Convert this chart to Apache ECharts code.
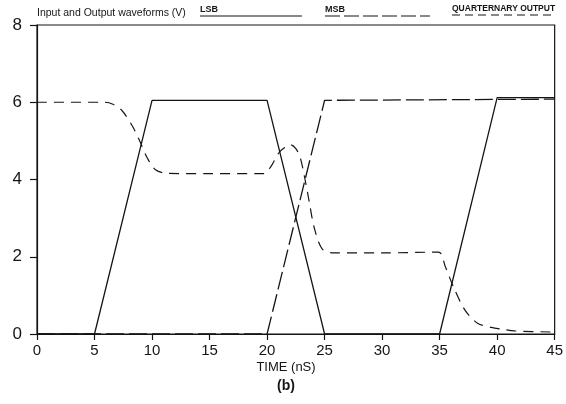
<!DOCTYPE html>
<html>
<head>
<meta charset="utf-8">
<script src="https://cdn.jsdelivr.net/npm/echarts@6/dist/echarts.min.js"></script>
<style>html,body{margin:0;padding:0;background:#fff;}#c{width:566px;height:404px;}</style>
</head>
<body>
<div id="c"></div>
<script>
// Time (nS) and voltage (V) samples
const lsbTime = [0, 5, 10, 20, 25, 35, 40, 45];
const lsbVolt = [0, 0, 6.05, 6.05, 0, 0, 6.12, 6.12];

const msbTime = [0, 20, 25, 45];
const msbVolt = [0, 0, 6.05, 6.08];

const qTime = [0, 5.9, 6.6, 7.4, 8.3, 9.0, 9.6, 10.3, 11.3, 15, 19.7, 20.3, 21.0, 21.5, 22.05, 22.5, 22.9, 23.3, 23.65, 24.1, 24.8, 25.8, 30, 34.9, 35.5, 36.2, 37.2, 38.3, 39.5, 40.5, 41.5, 45];
const qVolt = [6.0, 6.0, 5.95, 5.78, 5.38, 4.95, 4.55, 4.25, 4.16, 4.15, 4.15, 4.32, 4.68, 4.82, 4.9, 4.8, 4.55, 4.0, 3.45, 2.75, 2.2, 2.1, 2.1, 2.12, 1.74, 1.22, 0.62, 0.28, 0.17, 0.12, 0.08, 0.05];

const xTicks = [0, 5, 10, 15, 20, 25, 30, 35, 40, 45];
const yTicks = [0, 2, 4, 6, 8];

const titleText = 'Input and Output waveforms (V)';
const lsbName = 'LSB';
const msbName = 'MSB';
const qName = 'QUARTERNARY OUTPUT';
const xName = 'TIME (nS)';
const panelLabel = '(b)';

const zip = (a, b) => a.map((t, i) => [t, b[i]]);
const ink = '#151515';

const chart = echarts.init(document.getElementById('c'));
chart.setOption({
  animation: false,
  grid: { left: 37, right: 10, top: 25, bottom: 70, show: true, borderColor: ink, borderWidth: 1.2, backgroundColor: 'transparent' },
  xAxis: {
    type: 'value', min: 0, max: 45, interval: 5,
    axisLine: { show: true, lineStyle: { color: ink, width: 1.2 } },
    axisTick: { show: true, inside: false, length: 6, lineStyle: { color: ink, width: 1.2 } },
    axisLabel: { color: ink, fontSize: 15, fontFamily: 'Liberation Sans', margin: 9,
      formatter: v => xTicks.includes(v) ? String(v) : '' },
    splitLine: { show: false }
  },
  yAxis: {
    type: 'value', min: 0, max: 8, interval: 2,
    axisLine: { show: true, lineStyle: { color: ink, width: 1.2 } },
    axisTick: { show: true, inside: false, length: 7, lineStyle: { color: ink, width: 1.2 } },
    axisLabel: { color: ink, fontSize: 17, fontFamily: 'Liberation Sans', margin: 15,
      formatter: v => yTicks.includes(v) ? String(v) : '' },
    splitLine: { show: false }
  },
  series: [
    { name: lsbName, type: 'line', data: zip(lsbTime, lsbVolt), symbol: 'none',
      lineStyle: { color: ink, width: 1.3, type: 'solid' } },
    { name: msbName, type: 'line', data: zip(msbTime, msbVolt), symbol: 'none',
      lineStyle: { color: ink, width: 1.3, type: [18, 5] } },
    { name: qName, type: 'line', data: zip(qTime, qVolt), symbol: 'none', smooth: 0.3,
      lineStyle: { color: ink, width: 1.2, type: [10, 7] } }
  ],
  graphic: [
    { type: 'text', left: 37, top: 8, style: { text: titleText, fill: ink, font: '10.5px "Liberation Sans"' } },
    { type: 'text', left: 200, top: 5, style: { text: lsbName, fill: ink, font: 'bold 9px "Liberation Sans"' } },
    { type: 'line', shape: { x1: 200, y1: 16, x2: 302, y2: 16 }, style: { stroke: ink, lineWidth: 1.2 } },
    { type: 'text', left: 325, top: 5, style: { text: msbName, fill: ink, font: 'bold 9px "Liberation Sans"' } },
    { type: 'line', shape: { x1: 325, y1: 16, x2: 430, y2: 16 }, style: { stroke: ink, lineWidth: 1.2, lineDash: [15, 4] } },
    { type: 'text', left: 452, top: 4, style: { text: qName, fill: ink, font: 'bold 8.5px "Liberation Sans"' } },
    { type: 'line', shape: { x1: 452, y1: 15, x2: 555, y2: 15 }, style: { stroke: ink, lineWidth: 1.2, lineDash: [8, 5] } },
    { type: 'text', x: 286, y: 367, style: { text: xName, fill: ink, font: '13px "Liberation Sans"', align: 'center', verticalAlign: 'middle' } },
    { type: 'text', x: 286, y: 386, style: { text: panelLabel, fill: ink, font: 'bold 14px "Liberation Sans"', align: 'center', verticalAlign: 'middle' } }
  ]
});
</script>
</body>
</html>
